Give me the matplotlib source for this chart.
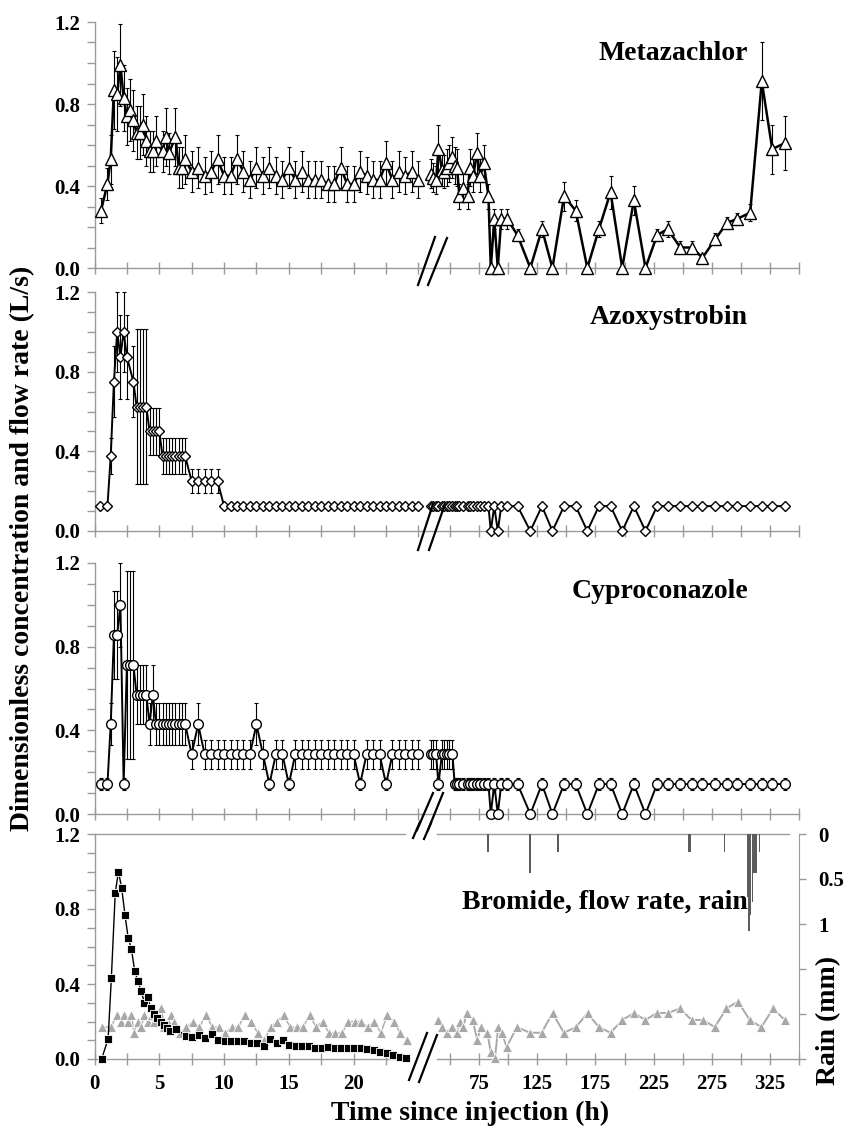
import matplotlib
matplotlib.use('Agg')
import matplotlib.pyplot as plt
from matplotlib.lines import Line2D
import numpy as np

plt.rcParams['font.family'] = ['Liberation Serif', 'DejaVu Serif']
plt.rcParams['font.weight'] = 'bold'

# ---------------- DATA ----------------
# shared right-hand sampling times (h) for the three pesticides
right_t = [34, 35, 38, 40, 43, 45, 47, 49, 52, 54,
           56, 58, 61, 65, 67, 70, 73, 76, 79, 83,
           85, 88, 91, 94, 99,
           108, 119, 129, 138, 148, 158, 168, 178, 188, 198,
           208, 218, 228, 237, 248, 258, 267, 278, 288, 297,
           308, 318, 327, 338]

# Metazachlor
meta_t_left = [0.5, 1.0, 1.25, 1.5, 1.75, 2.0, 2.25, 2.5, 2.75, 3.0, 3.25, 3.5,
               3.75, 4.0, 4.25, 4.5, 4.75, 5.25, 5.5, 5.75, 6.25, 6.5, 6.75, 7.0,
               7.5, 8.0, 8.5, 9.0, 9.5, 10.0, 10.5, 11.0, 11.5, 12.0, 12.5, 13.0,
               13.5, 14.0, 14.5, 15.0, 15.5, 16.0, 16.5, 17.0, 17.5, 18.0, 18.5, 19.0,
               19.5, 20.0, 20.5, 21.0, 21.5, 22.0, 22.5, 23.0, 23.5, 24.0, 24.5, 25.0]
meta_v_left = [0.28, 0.41, 0.53, 0.87, 0.85, 0.99, 0.83, 0.74, 0.77, 0.72, 0.66, 0.66,
               0.70, 0.62, 0.57, 0.57, 0.62, 0.57, 0.64, 0.56, 0.64, 0.49, 0.49, 0.53,
               0.47, 0.49, 0.45, 0.47, 0.53, 0.45, 0.45, 0.53, 0.47, 0.43, 0.49, 0.45,
               0.49, 0.45, 0.43, 0.49, 0.43, 0.47, 0.43, 0.43, 0.43, 0.41, 0.41, 0.49,
               0.41, 0.41, 0.47, 0.45, 0.43, 0.43, 0.51, 0.43, 0.47, 0.45, 0.47, 0.43]
meta_e_left = [0.06, 0.08, 0.12, 0.19, 0.18, 0.20, 0.16, 0.14, 0.15, 0.15, 0.13, 0.13,
               0.15, 0.12, 0.10, 0.10, 0.12, 0.10, 0.14, 0.10, 0.14, 0.10, 0.10, 0.12,
               0.10, 0.10, 0.09, 0.10, 0.12, 0.09, 0.09, 0.12, 0.10, 0.09, 0.10, 0.09,
               0.10, 0.09, 0.09, 0.10, 0.09, 0.10, 0.09, 0.09, 0.09, 0.09, 0.09, 0.10,
               0.09, 0.09, 0.10, 0.09, 0.09, 0.09, 0.11, 0.09, 0.10, 0.09, 0.10, 0.09]
meta_v_right = [0.46, 0.44, 0.43, 0.58, 0.48, 0.47, 0.49, 0.51, 0.54, 0.50,
                0.49, 0.35, 0.39, 0.35, 0.49, 0.45, 0.56, 0.45, 0.51, 0.35,
                0.0, 0.24, 0.0, 0.24, 0.24,
                0.16, 0.0, 0.19, 0.0, 0.35, 0.28, 0.0, 0.19, 0.37, 0.0,
                0.33, 0.0, 0.16, 0.19, 0.10, 0.10, 0.05, 0.14, 0.22, 0.24,
                0.27, 0.91, 0.58, 0.61]
meta_e_right = [0.07, 0.07, 0.07, 0.12, 0.08, 0.08, 0.09, 0.09, 0.10, 0.09,
                0.09, 0.06, 0.07, 0.06, 0.09, 0.08, 0.10, 0.08, 0.09, 0.06,
                0.0, 0.05, 0.0, 0.05, 0.05,
                0.03, 0.0, 0.04, 0.0, 0.07, 0.05, 0.0, 0.04, 0.08, 0.0,
                0.07, 0.0, 0.03, 0.04, 0.03, 0.03, 0.02, 0.03, 0.03, 0.03,
                0.04, 0.19, 0.12, 0.13]

# Azoxystrobin
azo_t_left = [0.4, 1.0, 1.25, 1.5, 1.75, 2.0, 2.25, 2.5,
              3.0, 3.25, 3.5, 3.75, 4.0, 4.25, 4.5, 4.75, 5.0, 5.25, 5.5, 5.75,
              6.0, 6.25, 6.5, 6.75, 7.0,
              7.5, 8.0, 8.5, 9.0, 9.5,
              10.0, 10.5, 11.0, 11.5, 12.0, 12.5, 13.0, 13.5, 14.0, 14.5, 15.0,
              15.5, 16.0, 16.5, 17.0, 17.5, 18.0, 18.5, 19.0, 19.5, 20.0,
              20.5, 21.0, 21.5, 22.0, 22.5, 23.0, 23.5, 24.0, 24.5, 25.0]
azo_v_left = [0.125, 0.125, 0.375, 0.75, 1.0, 0.875, 1.0, 0.875,
              0.75, 0.625, 0.625, 0.625, 0.625, 0.5, 0.5, 0.5, 0.5, 0.375, 0.375, 0.375,
              0.375, 0.375, 0.375, 0.375, 0.375,
              0.25, 0.25, 0.25, 0.25, 0.25,
              0.125, 0.125, 0.125, 0.125, 0.125, 0.125, 0.125, 0.125, 0.125, 0.125, 0.125,
              0.125, 0.125, 0.125, 0.125, 0.125, 0.125, 0.125, 0.125, 0.125, 0.125,
              0.125, 0.125, 0.125, 0.125, 0.125, 0.125, 0.125, 0.125, 0.125, 0.125]
azo_e_left = [0.0, 0.0, 0.09, 0.18, 0.20, 0.21, 0.20, 0.21,
              0.18, 0.39, 0.39, 0.39, 0.39, 0.12, 0.12, 0.12, 0.12, 0.09, 0.09, 0.09,
              0.09, 0.09, 0.09, 0.09, 0.09,
              0.06, 0.06, 0.06, 0.06, 0.06,
              0.0, 0.0, 0.0, 0.0, 0.0, 0.0, 0.0, 0.0, 0.0, 0.0, 0.0,
              0.0, 0.0, 0.0, 0.0, 0.0, 0.0, 0.0, 0.0, 0.0, 0.0,
              0.0, 0.0, 0.0, 0.0, 0.0, 0.0, 0.0, 0.0, 0.0, 0.0]
azo_v_right = [0.125, 0.125, 0.125, 0.125, 0.125, 0.125, 0.125, 0.125, 0.125, 0.125,
               0.125, 0.125, 0.125, 0.125, 0.125, 0.125, 0.125, 0.125, 0.125, 0.125,
               0.0, 0.125, 0.0, 0.125, 0.125,
               0.125, 0.0, 0.125, 0.0, 0.125, 0.125, 0.0, 0.125, 0.125, 0.0,
               0.125, 0.0, 0.125, 0.125, 0.125, 0.125, 0.125, 0.125, 0.125, 0.125,
               0.125, 0.125, 0.125, 0.125]

# Cyproconazole
cyp_t_left = [0.5, 1.0, 1.25, 1.5, 1.75, 2.0, 2.25, 2.5, 2.75, 3.0, 3.25, 3.5, 3.75,
              4.0, 4.25, 4.5, 4.75, 5.0, 5.25, 5.5, 5.75, 6.0, 6.25, 6.5, 6.75, 7.0,
              7.5, 8.0, 8.5, 9.0, 9.5, 10.0, 10.5, 11.0, 11.5, 12.0, 12.5, 13.0,
              13.5, 14.0, 14.5, 15.0, 15.5, 16.0, 16.5, 17.0, 17.5, 18.0, 18.5, 19.0,
              19.5, 20.0, 20.5, 21.0, 21.5, 22.0, 22.5, 23.0, 23.5, 24.0, 24.5, 25.0]
cyp_v_left = [0.143, 0.143, 0.429, 0.857, 0.857, 1.0, 0.143, 0.714, 0.714, 0.714, 0.571, 0.571, 0.571,
              0.571, 0.429, 0.571, 0.429, 0.429, 0.429, 0.429, 0.429, 0.429, 0.429, 0.429, 0.429, 0.429,
              0.286, 0.429, 0.286, 0.286, 0.286, 0.286, 0.286, 0.286, 0.286, 0.286, 0.429, 0.286,
              0.143, 0.286, 0.286, 0.143, 0.286, 0.286, 0.286, 0.286, 0.286, 0.286, 0.286, 0.286,
              0.286, 0.286, 0.143, 0.286, 0.286, 0.286, 0.143, 0.286, 0.286, 0.286, 0.286, 0.286]
cyp_e_left = [0.03, 0.03, 0.10, 0.21, 0.21, 0.20, 0.03, 0.45, 0.45, 0.45, 0.14, 0.14, 0.14,
              0.14, 0.10, 0.14, 0.10, 0.10, 0.10, 0.10, 0.10, 0.10, 0.10, 0.10, 0.10, 0.10,
              0.07, 0.10, 0.07, 0.07, 0.07, 0.07, 0.07, 0.07, 0.07, 0.07, 0.10, 0.07,
              0.03, 0.07, 0.07, 0.03, 0.07, 0.07, 0.07, 0.07, 0.07, 0.07, 0.07, 0.07,
              0.07, 0.07, 0.03, 0.07, 0.07, 0.07, 0.03, 0.07, 0.07, 0.07, 0.07, 0.07]
cyp_v_right = [0.286, 0.286, 0.286, 0.143, 0.286, 0.286, 0.286, 0.286, 0.286, 0.143,
               0.143, 0.143, 0.143, 0.143, 0.143, 0.143, 0.143, 0.143, 0.143, 0.143,
               0.0, 0.143, 0.0, 0.143, 0.143,
               0.143, 0.0, 0.143, 0.0, 0.143, 0.143, 0.0, 0.143, 0.143, 0.0,
               0.143, 0.0, 0.143, 0.143, 0.143, 0.143, 0.143, 0.143, 0.143, 0.143,
               0.143, 0.143, 0.143, 0.143]
cyp_e_right = [0.07, 0.07, 0.07, 0.03, 0.07, 0.07, 0.07, 0.07, 0.07, 0.03,
               0.03, 0.03, 0.03, 0.03, 0.03, 0.03, 0.03, 0.03, 0.03, 0.03,
               0.0, 0.03, 0.0, 0.03, 0.03,
               0.03, 0.0, 0.03, 0.0, 0.03, 0.03, 0.0, 0.03, 0.03, 0.0,
               0.03, 0.0, 0.03, 0.03, 0.03, 0.03, 0.03, 0.03, 0.03, 0.03,
               0.03, 0.03, 0.03, 0.03]

# Bromide (dimensionless)
br_t = [0.55, 1.05, 1.3, 1.6, 1.85, 2.1, 2.35, 2.6, 2.85, 3.1, 3.35, 3.6, 3.85, 4.1,
        4.35, 4.6, 4.85, 5.1, 5.35, 5.6, 5.85, 6.3, 7.05,
        7.55, 8.05, 8.55, 9.05, 9.55, 10.05, 10.55, 11.05, 11.55, 12.05,
        12.55, 13.05, 13.55, 14.05, 14.55, 15.05, 15.55, 16.05, 16.55, 17.05,
        17.55, 18.05, 18.55, 19.05, 19.55, 20.05, 20.55, 21.05, 21.55, 22.05,
        22.55, 23.05, 23.55, 24.05]
br_v = [0.0, 0.107, 0.43, 0.885, 1.0, 0.91, 0.77, 0.645, 0.587, 0.47, 0.416, 0.364, 0.30, 0.33,
        0.27, 0.24, 0.22, 0.20, 0.18, 0.165, 0.15, 0.16, 0.123,
        0.117, 0.128, 0.112, 0.133, 0.101, 0.096, 0.096, 0.098, 0.098, 0.085,
        0.085, 0.07, 0.106, 0.085, 0.10, 0.075, 0.071, 0.071, 0.071, 0.06,
        0.06, 0.066, 0.058, 0.058, 0.06, 0.058, 0.06, 0.053, 0.048, 0.039,
        0.032, 0.021, 0.012, 0.005]

# Flow rate (L/s)
fl_t_left = [0.55, 1.3, 1.7, 2.05, 2.3, 2.6, 2.85, 3.05, 3.35, 3.6, 3.85, 4.1, 4.4, 4.6,
             4.85, 5.15, 5.4, 5.65, 5.9, 6.15, 6.6,
             7.1, 7.6, 8.1, 8.6, 9.1, 9.6, 10.1, 10.6, 11.1, 11.6,
             12.1, 12.6, 13.1, 13.6, 14.1, 14.6, 15.1, 15.6, 16.1, 16.6,
             17.1, 17.6, 18.1, 18.6, 19.1, 19.6, 20.1, 20.6, 21.1, 21.6,
             22.1, 22.6, 23.1, 23.6, 24.1]
fl_v_left = [0.17, 0.17, 0.235, 0.2, 0.235, 0.2, 0.235, 0.138, 0.2, 0.17, 0.235, 0.2, 0.235, 0.2,
             0.235, 0.27, 0.17, 0.2, 0.235, 0.2, 0.138,
             0.17, 0.2, 0.17, 0.235, 0.17, 0.17, 0.138, 0.17, 0.17, 0.235,
             0.2, 0.138, 0.1, 0.17, 0.2, 0.235, 0.17, 0.17, 0.17, 0.235,
             0.17, 0.2, 0.138, 0.138, 0.138, 0.2, 0.2, 0.2, 0.17, 0.2,
             0.138, 0.235, 0.2, 0.138, 0.1]
fl_t_right = [39.6, 42.8, 47.1, 51.4, 55.7, 58.5, 61.3, 64.3, 69.4, 73.4, 76.3, 82.0,
              84.9, 88.6, 91.4, 94.3, 98.6, 107.7, 118.6, 128.7, 138.1, 147.9, 158.2,
              168.2, 177.9, 188.0, 198.0, 208.0, 218.0, 227.5, 237.5, 247.5, 257.6,
              267.5, 277.6, 287.6, 297.6, 307.6, 317.7, 327.7, 337.7]
fl_v_right = [0.208, 0.17, 0.14, 0.17, 0.14, 0.2, 0.17, 0.245, 0.208, 0.1, 0.17, 0.14,
              0.04, 0.005, 0.17, 0.14, 0.066, 0.17, 0.14, 0.14, 0.245, 0.14, 0.17,
              0.245, 0.17, 0.14, 0.208, 0.245, 0.208, 0.245, 0.245, 0.27, 0.208,
              0.208, 0.17, 0.27, 0.306, 0.208, 0.17, 0.27, 0.208]

# Rain (mm)
rain_t = [82.5, 118.5, 143.0, 255.0, 256.5, 286.0, 306.0, 307.0, 308.5, 310.0, 311.5, 313.0, 316.0]
rain_mm = [0.2, 0.43, 0.2, 0.2, 0.2, 0.2, 0.7, 1.08, 0.9, 0.76, 0.43, 0.43, 0.2]

titles = ['Metazachlor', 'Azoxystrobin', 'Cyproconazole', 'Bromide, flow rate, rain']
title_y_px = [53, 318, 592, 902]

# ---------------- LAYOUT ----------------
W, H = 849, 1129
fig = plt.figure(figsize=(W / 100, H / 100), dpi=100)
GRAY = '#9a9a9a'
XL0, XB, XR1 = 94.5, 421.0, 799.0
panels_px = [(22, 268), (292, 531), (563, 814), (834, 1059)]
TICK_FS = 15

axes_pairs = []
for i, (top, bot) in enumerate(panels_px):
    hgt = (bot - top) / H
    y0 = 1 - bot / H
    axL = fig.add_axes([XL0 / W, y0, (XB - XL0) / W, hgt])
    axR = fig.add_axes([XB / W, y0, (XR1 - XB) / W, hgt])
    for ax in (axL, axR):
        ax.set_ylim(0, 1.2)
        ax.patch.set_visible(False)
        for s in ax.spines.values():
            s.set_color(GRAY)
            s.set_linewidth(1.0)
        ax.spines['top'].set_visible(False)
        ax.spines['right'].set_visible(False)
    axR.spines['left'].set_visible(False)
    axR.tick_params(axis='y', which='both', left=False, labelleft=False)
    axL.set_xlim(0, 25.2)
    axR.set_xlim(25, 350)
    axL.set_yticks([0, 0.4, 0.8, 1.2])
    axL.set_yticklabels(['0.0', '0.4', '0.8', '1.2'])
    axL.set_yticks([0.1, 0.2, 0.3, 0.5, 0.6, 0.7, 0.9, 1.0, 1.1], minor=True)
    axL.tick_params(axis='y', which='both', direction='out', length=6, width=1,
                    color=GRAY, labelsize=TICK_FS, pad=4)
    last = (i == 3)
    lticks = [0, 2.5, 5, 7.5, 10, 12.5, 15, 17.5, 20, 22.5] + ([] if last else [25])
    axL.set_xticks(lticks)
    rticks = [50, 75, 100, 125, 150, 175, 200, 225, 250, 275, 300, 325, 350]
    axR.set_xticks(rticks)
    if last:
        axL.set_xticklabels([('%g' % t) if t % 5 == 0 else '' for t in lticks])
        axR.set_xticklabels([str(t) if t in (75, 125, 175, 225, 275, 325) else '' for t in rticks])
    else:
        axL.set_xticklabels([])
        axR.set_xticklabels([])
    for ax in (axL, axR):
        ax.tick_params(axis='x', direction='inout', length=9, width=1, color=GRAY,
                       labelsize=TICK_FS, pad=6)
    axes_pairs.append((axL, axR))

# ---------------- PESTICIDE PANELS ----------------
def draw_series(ax, t, v, e, marker, ms, lw):
    if e is not None:
        ax.errorbar(t, v, yerr=e, fmt='none', ecolor='black', elinewidth=0.8,
                    capsize=1.6, capthick=0.8, zorder=2, clip_on=False)
    ax.plot(t, v, '-', color='black', lw=lw, marker=marker, ms=ms, mfc='white',
            mec='black', mew=1.0, zorder=3, clip_on=False)

draw_series(axes_pairs[0][0], meta_t_left, meta_v_left, meta_e_left, '^', 8, 1.8)
draw_series(axes_pairs[0][1], right_t, meta_v_right, meta_e_right, '^', 8, 1.8)
draw_series(axes_pairs[1][0], azo_t_left, azo_v_left, azo_e_left, 'D', 5.5, 1.4)
draw_series(axes_pairs[1][1], right_t, azo_v_right, None, 'D', 5.5, 1.4)
draw_series(axes_pairs[2][0], cyp_t_left, cyp_v_left, cyp_e_left, 'o', 7, 1.4)
draw_series(axes_pairs[2][1], right_t, cyp_v_right, cyp_e_right, 'o', 7, 1.4)

# ---------------- BOTTOM PANEL ----------------
axL, axR = axes_pairs[3]
FLOW = '#a8a8a8'
axL.plot(fl_t_left, fl_v_left, '-', color=FLOW, lw=1.0, marker='^', ms=7,
         mfc=FLOW, mec='white', mew=0.6, zorder=3, clip_on=False)
axR.plot(fl_t_right, fl_v_right, '-', color=FLOW, lw=1.4, marker='^', ms=7,
         mfc=FLOW, mec='white', mew=0.6, zorder=3, clip_on=False)
axL.plot(br_t, br_v, '-', color='black', lw=1.0, marker='s', ms=5.8,
         mfc='black', mec='white', mew=0.6, zorder=4, clip_on=False)

for ax in (axL, axR):
    ax.spines['top'].set_visible(True)
axL.spines['top'].set_bounds(0, 24.0)
axL.spines['bottom'].set_bounds(0, 24.0)
axR.spines['top'].set_bounds(38.7, 341)
axR.spines['bottom'].set_bounds(38.7, 350)

axRain = axR.twinx()
axR.tick_params(axis='y', which='both', left=False, labelleft=False,
                right=False, labelright=False)
axRain.set_ylim(2.5, 0)
axRain.patch.set_visible(False)
for k, s in axRain.spines.items():
    s.set_visible(k == 'right')
    s.set_color(GRAY)
axRain.bar(rain_t, rain_mm, width=1.3, color='#5c5c5c', align='center', zorder=2)
axRain.set_yticks([0, 0.5, 1, 1.5, 2, 2.5])
axRain.set_yticklabels(['0', '0.5', '1', '', '', ''])
axRain.tick_params(axis='y', direction='out', length=5, width=1, color=GRAY,
                   labelsize=TICK_FS, pad=9)

# ---------------- BREAK MARKS ----------------
breaks = [((418, 285), (435, 237)), ((428, 285), (447, 238)),
          ((418, 550), (433, 504)), ((429, 550), (445, 504)),
          ((417, 830), (433, 793)), ((428, 830), (443, 793)),
          ((409, 1080), (427, 1033)), ((419, 1082), (437, 1035)),
          ((413, 838), (420, 822)), ((424, 839), (431, 823))]
for (x1, y1), (x2, y2) in breaks:
    fig.add_artist(Line2D([x1 / W, x2 / W], [1 - y1 / H, 1 - y2 / H],
                          color='black', lw=1.6, transform=fig.transFigure))

# ---------------- TEXT ----------------
for ttl, ty in zip(titles, title_y_px):
    fig.text(748 / W, 1 - ty / H, ttl, ha='right', va='center', fontsize=20,
             fontweight='bold')
fig.text(23 / W, 1 - 548 / H, 'Dimensionless concentration and flow rate (L/s)',
         rotation=90, ha='center', va='center', fontsize=20, fontweight='bold')
fig.text(470 / W, 1 - 1113 / H, 'Time since injection (h)', ha='center', va='center',
         fontsize=20, fontweight='bold')
fig.text(829 / W, 1 - 1020 / H, 'Rain (mm)', rotation=90, ha='center', va='center',
         fontsize=20, fontweight='bold')

fig.savefig('out.png', dpi=100)
